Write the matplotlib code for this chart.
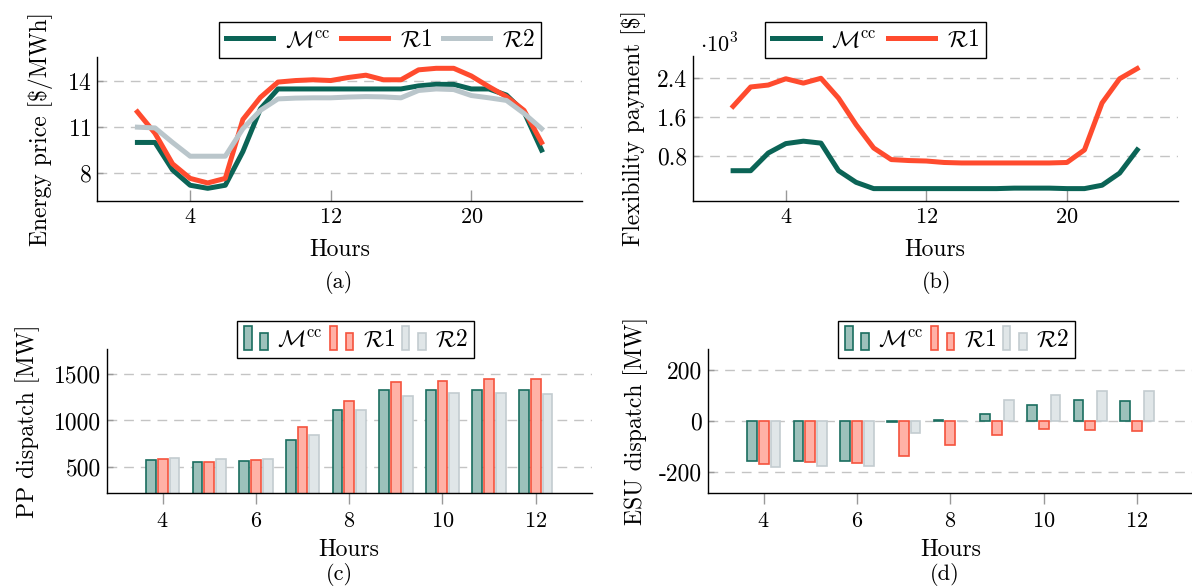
import numpy as np
import matplotlib
matplotlib.use("Agg")
import matplotlib.pyplot as plt
from matplotlib.patches import Rectangle
from matplotlib.legend_handler import HandlerBase

plt.rcParams['font.family'] = 'serif'
plt.rcParams['font.serif'] = ['cmr10', 'DejaVu Serif']
plt.rcParams['mathtext.fontset'] = 'cm'
plt.rcParams['axes.formatter.use_mathtext'] = True
plt.rcParams['axes.unicode_minus'] = False

# ================================
# DATA
# ================================
hours = np.arange(1, 25)
price_mcc = [10.0, 10.0, 8.2, 7.2, 7.0, 7.2, 9.4, 12.2, 13.5, 13.5, 13.5, 13.5,
             13.5, 13.5, 13.5, 13.5, 13.7, 13.8, 13.8, 13.5, 13.5, 13.1, 12.0, 9.5]
price_r1 = [12.0, 10.6, 8.6, 7.65, 7.35, 7.65, 11.5, 12.95, 13.95, 14.05, 14.1, 14.05,
            14.25, 14.4, 14.1, 14.1, 14.75, 14.85, 14.85, 14.35, 13.65, 13.0, 12.1, 10.0]
price_r2 = [11.0, 10.95, 10.0, 9.1, 9.1, 9.1, 10.9, 12.1, 12.85, 12.9, 12.92, 12.92,
            12.97, 13.0, 12.98, 12.92, 13.4, 13.5, 13.46, 13.07, 12.92, 12.75, 11.9, 10.9]

# flexibility payment in 10^3 $
flex_mcc = [0.49, 0.49, 0.855, 1.05, 1.1, 1.06, 0.49, 0.25, 0.12, 0.12, 0.12, 0.12,
            0.12, 0.12, 0.12, 0.12, 0.13, 0.13, 0.13, 0.12, 0.12, 0.19, 0.44, 0.92]
flex_r1 = [1.82, 2.22, 2.26, 2.39, 2.3, 2.4, 1.99, 1.44, 0.96, 0.72, 0.70, 0.69,
           0.66, 0.65, 0.65, 0.65, 0.65, 0.65, 0.65, 0.66, 0.92, 1.89, 2.39, 2.6]

bar_hours = np.arange(4, 13)
pp_mcc = [572, 550, 568, 791, 1108, 1327, 1327, 1327, 1327]
pp_r1 = [586, 554, 576, 928, 1209, 1414, 1428, 1446, 1446]
pp_r2 = [601, 583, 590, 842, 1115, 1266, 1291, 1291, 1288]

esu_mcc = [-158, -158, -158, -2, 5, 29, 64, 83, 79]
esu_r1 = [-171, -162, -167, -138, -95, -55, -33, -37, -39]
esu_r2 = [-183, -178, -179, -49, 1, 83, 103, 118, 120]

labels = [r'$\mathcal{M}^{\rm cc}$', r'$\mathcal{R}1$', r'$\mathcal{R}2$']

# ================================
# STYLE
# ================================
c_green, c_red, c_gray = '#0b6456', '#ff4b2e', '#bac6cb'
fill = {'g': ('#9dc1bb', '#1a6d5f'), 'r': ('#ffb1a6', '#f5533d'), 'k': ('#e0e6e8', '#c3ccd0')}
grid_kw = dict(color='#c4c4c4', lw=1.0, ls=(0, (7, 5)))
W, H = 1192, 588
LAB = 17


class TwoBars(HandlerBase):
    def create_artists(self, legend, orig, xd, yd, width, height, fontsize, trans):
        fc, ec = orig.get_facecolor(), orig.get_edgecolor()
        w = width * 0.3
        r1 = Rectangle((-xd, -yd - 0.25 * height), w, height * 1.45, fc=fc, ec=ec, lw=1.2, transform=trans)
        r2 = Rectangle((-xd + width * 0.62, -yd - 0.25 * height), w, height * 1.0, fc=fc, ec=ec, lw=1.2, transform=trans)
        return [r1, r2]


def style_axes(ax, xdir):
    for s in ['top', 'right']:
        ax.spines[s].set_visible(False)
    for s in ['left', 'bottom']:
        ax.spines[s].set_linewidth(1.0)
    ax.tick_params(axis='x', direction=xdir, length=8, width=1, color='#999999', labelsize=16, pad=5)
    ax.tick_params(axis='y', direction='in', length=4, width=1, color='#999999', labelsize=17, pad=4)
    ax.yaxis.grid(True, **grid_kw)
    ax.set_axisbelow(True)


def add_axes(px_left, px_top, px_right, px_bottom):
    return fig.add_axes([px_left / W, 1 - px_bottom / H, (px_right - px_left) / W, (px_bottom - px_top) / H])


def legend_kw(cx, cy, n, hl, cs, tp):
    return dict(loc='center', bbox_to_anchor=(cx / W, 1 - cy / H), bbox_transform=fig.transFigure,
                ncol=n, fontsize=17, frameon=True, fancybox=False, edgecolor='black', framealpha=1,
                handlelength=hl, columnspacing=cs, handletextpad=tp, borderpad=0.3)


fig = plt.figure(figsize=(W / 100, H / 100), dpi=100)

# ---------------- (a)
ax = add_axes(97, 57, 582, 201)
ax.plot(hours, price_mcc, color=c_green, lw=3.6, label=labels[0])
ax.plot(hours, price_r1, color=c_red, lw=3.6, label=labels[1])
ax.plot(hours, price_r2, color=c_gray, lw=3.6, label=labels[2])
ax.set_xlim(-1.3, 26.3)
ax.set_ylim(6.17, 15.59)
ax.set_xticks([4, 12, 20])
ax.set_yticks([8, 11, 14])
style_axes(ax, 'in')
ax.set_xlabel('Hours', fontsize=LAB, labelpad=8)
ax.set_ylabel(r'Energy price [\$/MWh]', fontsize=LAB, labelpad=10)
leg = ax.legend(**legend_kw(380, 40, 3, 2.0, 0.45, 0.5))
leg.get_frame().set_linewidth(1.0)
fig.text(339 / W, 1 - 283 / H, '(a)', ha='center', va='center', fontsize=16)

# ---------------- (b)
ax = add_axes(692.7, 56, 1177.6, 201)
ax.plot(hours, flex_mcc, color=c_green, lw=3.6, label=labels[0])
ax.plot(hours, flex_r1, color=c_red, lw=3.6, label=labels[1])
ax.set_xlim(-1.3, 26.3)
ax.set_ylim(-0.136, 2.86)
ax.set_xticks([4, 12, 20])
ax.set_yticks([0.8, 1.6, 2.4])
ax.set_yticklabels(['0.8', '1.6', '2.4'])
style_axes(ax, 'in')
ax.set_xlabel('Hours', fontsize=LAB, labelpad=8)
ax.set_ylabel(r'Flexibility payment [\$]', fontsize=LAB, labelpad=8)
leg = ax.legend(**legend_kw(875.5, 40, 2, 2.0, 0.45, 0.5))
leg.get_frame().set_linewidth(1.0)
fig.text(719 / W, 1 - 44 / H, r'$\cdot 10^3$', ha='center', va='center', fontsize=16)
fig.text(937 / W, 1 - 283 / H, '(b)', ha='center', va='center', fontsize=16)


def bar_panel(ax, a, b, c):
    off, bw = 0.253, 0.21
    h1 = ax.bar(bar_hours - off, a, bw, color=fill['g'][0], edgecolor=fill['g'][1], lw=1.2, label=labels[0])
    h2 = ax.bar(bar_hours, b, bw, color=fill['r'][0], edgecolor=fill['r'][1], lw=1.2, label=labels[1])
    h3 = ax.bar(bar_hours + off, c, bw, color=fill['k'][0], edgecolor=fill['k'][1], lw=1.2, label=labels[2])
    ax.set_xlim(2.8, 13.2)
    ax.set_xticks([4, 6, 8, 10, 12])
    style_axes(ax, 'out')
    return [h1.patches[0], h2.patches[0], h3.patches[0]]


# ---------------- (c)
ax = add_axes(106.7, 349, 591.7, 493.3)
hs = bar_panel(ax, pp_mcc, pp_r1, pp_r2)
ax.set_ylim(217, 1769)
ax.set_yticks([500, 1000, 1500])
ax.set_yticklabels(['500', '1000', '1500'])
ax.set_xlabel('Hours', fontsize=LAB, labelpad=6)
ax.set_ylabel('PP dispatch [MW]', fontsize=LAB, labelpad=10)
leg = ax.legend(hs, labels, handler_map={h: TwoBars() for h in hs}, **legend_kw(355.5, 339.5, 3, 1.1, 0.3, 0.3))
leg.get_frame().set_linewidth(1.0)
fig.text(339 / W, 1 - 574 / H, '(c)', ha='center', va='center', fontsize=16)

# ---------------- (d)
ax = add_axes(707.7, 349, 1193, 493.3)
hs = bar_panel(ax, esu_mcc, esu_r1, esu_r2)
ax.set_ylim(-285, 284)
ax.set_yticks([-200, 0, 200])
ax.set_yticklabels(['-200', '0', '200'])
ax.set_xlabel('Hours', fontsize=LAB, labelpad=6)
ax.set_ylabel('ESU dispatch [MW]', fontsize=LAB, labelpad=8)
leg = ax.legend(hs, labels, handler_map={h: TwoBars() for h in hs}, **legend_kw(956.5, 339.5, 3, 1.1, 0.3, 0.3))
leg.get_frame().set_linewidth(1.0)
fig.text(945 / W, 1 - 574 / H, '(d)', ha='center', va='center', fontsize=16)

fig.savefig('out.png', dpi=100, facecolor='white')
